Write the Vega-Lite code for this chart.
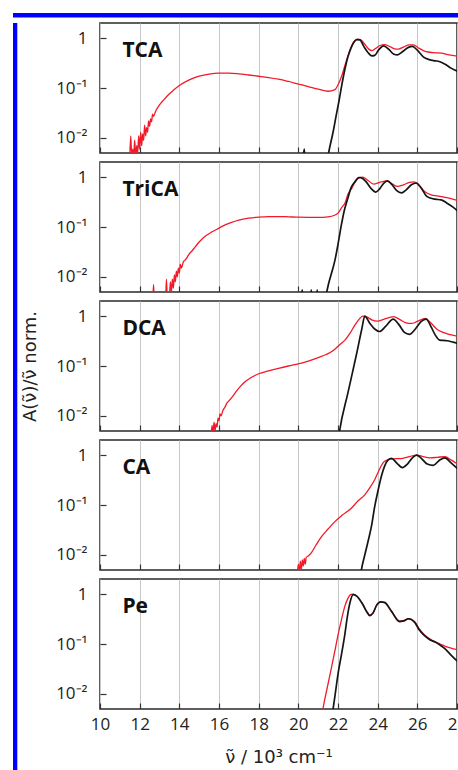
{
  "$schema": "https://vega.github.io/schema/vega-lite/v6.json",
  "background": "white",
  "padding": {"left": 12, "top": 12, "right": 0, "bottom": 0},
  "spacing": 0,
  "config": {
    "view": {"stroke": "#2a2a2a", "strokeWidth": 1.5},
    "axis": {"labelFont": "Open Sans", "labelFontSize": 17, "labelColor": "#222", "titleFont": "DejaVu Sans", "titleFontSize": 18, "titleFontWeight": "normal", "titleColor": "#222", "domain": false, "tickColor": "#333", "tickWidth": 1.2, "labelOverlap": false, "labelFlush": false},
    "axisX": {"grid": true, "gridColor": "#c8c8c8", "gridWidth": 1, "tickSize": -6, "labelPadding": 13.5, "titlePadding": 16},
    "axisY": {"grid": false, "tickSize": -6, "labelPadding": 19, "titlePadding": 16},
    "text": {"font": "Open Sans"}
  },
  "data": {"values": [
    {"panel":"TCA","series":"red","nu":11.5,"A":0.004},{"panel":"TCA","series":"red","nu":11.55,"A":0.011},{"panel":"TCA","series":"red","nu":11.6,"A":0.004},{"panel":"TCA","series":"red","nu":11.65,"A":0.006},{"panel":"TCA","series":"red","nu":11.7,"A":0.0045},{"panel":"TCA","series":"red","nu":11.75,"A":0.009},{"panel":"TCA","series":"red","nu":11.8,"A":0.004},{"panel":"TCA","series":"red","nu":11.85,"A":0.007},{"panel":"TCA","series":"red","nu":11.9,"A":0.005},{"panel":"TCA","series":"red","nu":11.95,"A":0.011},{"panel":"TCA","series":"red","nu":12.0,"A":0.006},{"panel":"TCA","series":"red","nu":12.05,"A":0.013},{"panel":"TCA","series":"red","nu":12.1,"A":0.007},{"panel":"TCA","series":"red","nu":12.15,"A":0.012},{"panel":"TCA","series":"red","nu":12.2,"A":0.009},{"panel":"TCA","series":"red","nu":12.25,"A":0.018},{"panel":"TCA","series":"red","nu":12.3,"A":0.011},{"panel":"TCA","series":"red","nu":12.35,"A":0.016},{"panel":"TCA","series":"red","nu":12.4,"A":0.013},{"panel":"TCA","series":"red","nu":12.45,"A":0.022},{"panel":"TCA","series":"red","nu":12.5,"A":0.017},{"panel":"TCA","series":"red","nu":12.55,"A":0.024},{"panel":"TCA","series":"red","nu":12.6,"A":0.021},{"panel":"TCA","series":"red","nu":12.65,"A":0.03},{"panel":"TCA","series":"red","nu":12.7,"A":0.027},{"panel":"TCA","series":"red","nu":12.8,"A":0.034},{"panel":"TCA","series":"red","nu":12.9,"A":0.04},{"panel":"TCA","series":"red","nu":13.0,"A":0.046},{"panel":"TCA","series":"red","nu":13.2,"A":0.057},{"panel":"TCA","series":"red","nu":13.4,"A":0.07},{"panel":"TCA","series":"red","nu":13.7,"A":0.09},{"panel":"TCA","series":"red","nu":14.0,"A":0.112},{"panel":"TCA","series":"red","nu":14.5,"A":0.145},{"panel":"TCA","series":"red","nu":15.0,"A":0.172},{"panel":"TCA","series":"red","nu":15.5,"A":0.19},{"panel":"TCA","series":"red","nu":16.0,"A":0.198},{"panel":"TCA","series":"red","nu":16.5,"A":0.198},{"panel":"TCA","series":"red","nu":17.0,"A":0.192},{"panel":"TCA","series":"red","nu":17.5,"A":0.182},{"panel":"TCA","series":"red","nu":18.0,"A":0.172},{"panel":"TCA","series":"red","nu":18.5,"A":0.162},{"panel":"TCA","series":"red","nu":19.0,"A":0.15},{"panel":"TCA","series":"red","nu":19.5,"A":0.135},{"panel":"TCA","series":"red","nu":20.0,"A":0.12},{"panel":"TCA","series":"red","nu":20.5,"A":0.107},{"panel":"TCA","series":"red","nu":21.0,"A":0.095},{"panel":"TCA","series":"red","nu":21.5,"A":0.086},{"panel":"TCA","series":"red","nu":21.85,"A":0.093},{"panel":"TCA","series":"red","nu":22.0,"A":0.115},{"panel":"TCA","series":"red","nu":22.2,"A":0.18},{"panel":"TCA","series":"red","nu":22.4,"A":0.33},{"panel":"TCA","series":"red","nu":22.55,"A":0.5},{"panel":"TCA","series":"red","nu":22.7,"A":0.72},{"panel":"TCA","series":"red","nu":22.85,"A":0.88},{"panel":"TCA","series":"red","nu":23.0,"A":0.95},{"panel":"TCA","series":"red","nu":23.15,"A":0.92},{"panel":"TCA","series":"red","nu":23.35,"A":0.75},{"panel":"TCA","series":"red","nu":23.55,"A":0.6},{"panel":"TCA","series":"red","nu":23.7,"A":0.56},{"panel":"TCA","series":"red","nu":23.9,"A":0.62},{"panel":"TCA","series":"red","nu":24.1,"A":0.7},{"panel":"TCA","series":"red","nu":24.35,"A":0.74},{"panel":"TCA","series":"red","nu":24.6,"A":0.68},{"panel":"TCA","series":"red","nu":24.85,"A":0.61},{"panel":"TCA","series":"red","nu":25.05,"A":0.6},{"panel":"TCA","series":"red","nu":25.3,"A":0.66},{"panel":"TCA","series":"red","nu":25.6,"A":0.73},{"panel":"TCA","series":"red","nu":25.8,"A":0.73},{"panel":"TCA","series":"red","nu":26.1,"A":0.62},{"panel":"TCA","series":"red","nu":26.4,"A":0.54},{"panel":"TCA","series":"red","nu":26.8,"A":0.51},{"panel":"TCA","series":"red","nu":27.2,"A":0.5},{"panel":"TCA","series":"red","nu":27.6,"A":0.46},{"panel":"TCA","series":"red","nu":28.1,"A":0.43},
    {"panel":"TCA","series":"black","nu":20.2,"A":0.003},{"panel":"TCA","series":"black","nu":20.3,"A":0.006},{"panel":"TCA","series":"black","nu":20.35,"A":0.003},{"panel":"TCA","series":"black","nu":21.45,"A":0.004},{"panel":"TCA","series":"black","nu":21.6,"A":0.007},{"panel":"TCA","series":"black","nu":21.75,"A":0.013},{"panel":"TCA","series":"black","nu":21.9,"A":0.027},{"panel":"TCA","series":"black","nu":22.05,"A":0.055},{"panel":"TCA","series":"black","nu":22.2,"A":0.12},{"panel":"TCA","series":"black","nu":22.35,"A":0.24},{"panel":"TCA","series":"black","nu":22.5,"A":0.42},{"panel":"TCA","series":"black","nu":22.65,"A":0.62},{"panel":"TCA","series":"black","nu":22.8,"A":0.82},{"panel":"TCA","series":"black","nu":22.95,"A":0.93},{"panel":"TCA","series":"black","nu":23.1,"A":0.92},{"panel":"TCA","series":"black","nu":23.3,"A":0.68},{"panel":"TCA","series":"black","nu":23.5,"A":0.52},{"panel":"TCA","series":"black","nu":23.7,"A":0.44},{"panel":"TCA","series":"black","nu":23.85,"A":0.45},{"panel":"TCA","series":"black","nu":24.05,"A":0.58},{"panel":"TCA","series":"black","nu":24.3,"A":0.7},{"panel":"TCA","series":"black","nu":24.55,"A":0.6},{"panel":"TCA","series":"black","nu":24.8,"A":0.48},{"panel":"TCA","series":"black","nu":25.0,"A":0.46},{"panel":"TCA","series":"black","nu":25.25,"A":0.53},{"panel":"TCA","series":"black","nu":25.55,"A":0.65},{"panel":"TCA","series":"black","nu":25.75,"A":0.68},{"panel":"TCA","series":"black","nu":26.0,"A":0.57},{"panel":"TCA","series":"black","nu":26.3,"A":0.42},{"panel":"TCA","series":"black","nu":26.6,"A":0.37},{"panel":"TCA","series":"black","nu":26.9,"A":0.35},{"panel":"TCA","series":"black","nu":27.1,"A":0.34},{"panel":"TCA","series":"black","nu":27.4,"A":0.3},{"panel":"TCA","series":"black","nu":27.7,"A":0.25},{"panel":"TCA","series":"black","nu":28.1,"A":0.21},
    {"panel":"TriCA","series":"red","nu":12.65,"A":0.003},{"panel":"TriCA","series":"red","nu":12.7,"A":0.007},{"panel":"TriCA","series":"red","nu":12.75,"A":0.003},{"panel":"TriCA","series":"red","nu":13.3,"A":0.003},{"panel":"TriCA","series":"red","nu":13.35,"A":0.009},{"panel":"TriCA","series":"red","nu":13.4,"A":0.003},{"panel":"TriCA","series":"red","nu":13.5,"A":0.004},{"panel":"TriCA","series":"red","nu":13.55,"A":0.008},{"panel":"TriCA","series":"red","nu":13.6,"A":0.005},{"panel":"TriCA","series":"red","nu":13.65,"A":0.009},{"panel":"TriCA","series":"red","nu":13.7,"A":0.006},{"panel":"TriCA","series":"red","nu":13.75,"A":0.011},{"panel":"TriCA","series":"red","nu":13.8,"A":0.008},{"panel":"TriCA","series":"red","nu":13.85,"A":0.013},{"panel":"TriCA","series":"red","nu":13.9,"A":0.01},{"panel":"TriCA","series":"red","nu":13.95,"A":0.015},{"panel":"TriCA","series":"red","nu":14.0,"A":0.012},{"panel":"TriCA","series":"red","nu":14.05,"A":0.018},{"panel":"TriCA","series":"red","nu":14.1,"A":0.015},{"panel":"TriCA","series":"red","nu":14.2,"A":0.02},{"panel":"TriCA","series":"red","nu":14.3,"A":0.022},{"panel":"TriCA","series":"red","nu":14.4,"A":0.025},{"panel":"TriCA","series":"red","nu":14.5,"A":0.029},{"panel":"TriCA","series":"red","nu":14.6,"A":0.032},{"panel":"TriCA","series":"red","nu":14.8,"A":0.04},{"panel":"TriCA","series":"red","nu":15.0,"A":0.05},{"panel":"TriCA","series":"red","nu":15.3,"A":0.065},{"panel":"TriCA","series":"red","nu":15.6,"A":0.078},{"panel":"TriCA","series":"red","nu":15.9,"A":0.09},{"panel":"TriCA","series":"red","nu":16.2,"A":0.105},{"panel":"TriCA","series":"red","nu":16.6,"A":0.122},{"panel":"TriCA","series":"red","nu":17.0,"A":0.137},{"panel":"TriCA","series":"red","nu":17.5,"A":0.15},{"panel":"TriCA","series":"red","nu":18.0,"A":0.158},{"panel":"TriCA","series":"red","nu":18.5,"A":0.162},{"panel":"TriCA","series":"red","nu":19.0,"A":0.162},{"panel":"TriCA","series":"red","nu":19.5,"A":0.16},{"panel":"TriCA","series":"red","nu":20.0,"A":0.157},{"panel":"TriCA","series":"red","nu":20.5,"A":0.156},{"panel":"TriCA","series":"red","nu":21.0,"A":0.156},{"panel":"TriCA","series":"red","nu":21.5,"A":0.16},{"panel":"TriCA","series":"red","nu":21.8,"A":0.17},{"panel":"TriCA","series":"red","nu":22.0,"A":0.19},{"panel":"TriCA","series":"red","nu":22.2,"A":0.25},{"panel":"TriCA","series":"red","nu":22.35,"A":0.3},{"panel":"TriCA","series":"red","nu":22.5,"A":0.45},{"panel":"TriCA","series":"red","nu":22.7,"A":0.6},{"panel":"TriCA","series":"red","nu":22.85,"A":0.78},{"panel":"TriCA","series":"red","nu":23.0,"A":0.93},{"panel":"TriCA","series":"red","nu":23.25,"A":1.0},{"panel":"TriCA","series":"red","nu":23.5,"A":0.86},{"panel":"TriCA","series":"red","nu":23.8,"A":0.72},{"panel":"TriCA","series":"red","nu":24.1,"A":0.78},{"panel":"TriCA","series":"red","nu":24.45,"A":0.84},{"panel":"TriCA","series":"red","nu":24.75,"A":0.72},{"panel":"TriCA","series":"red","nu":25.0,"A":0.65},{"panel":"TriCA","series":"red","nu":25.3,"A":0.7},{"panel":"TriCA","series":"red","nu":25.6,"A":0.78},{"panel":"TriCA","series":"red","nu":25.85,"A":0.8},{"panel":"TriCA","series":"red","nu":26.1,"A":0.66},{"panel":"TriCA","series":"red","nu":26.4,"A":0.5},{"panel":"TriCA","series":"red","nu":26.7,"A":0.44},{"panel":"TriCA","series":"red","nu":27.0,"A":0.42},{"panel":"TriCA","series":"red","nu":27.3,"A":0.4},{"panel":"TriCA","series":"red","nu":27.7,"A":0.37},{"panel":"TriCA","series":"red","nu":28.1,"A":0.33},
    {"panel":"TriCA","series":"black","nu":20.1,"A":0.003},{"panel":"TriCA","series":"black","nu":20.2,"A":0.0055},{"panel":"TriCA","series":"black","nu":20.25,"A":0.003},{"panel":"TriCA","series":"black","nu":20.6,"A":0.003},{"panel":"TriCA","series":"black","nu":20.65,"A":0.0055},{"panel":"TriCA","series":"black","nu":20.7,"A":0.003},{"panel":"TriCA","series":"black","nu":20.9,"A":0.003},{"panel":"TriCA","series":"black","nu":20.95,"A":0.0055},{"panel":"TriCA","series":"black","nu":21.0,"A":0.003},{"panel":"TriCA","series":"black","nu":21.35,"A":0.004},{"panel":"TriCA","series":"black","nu":21.55,"A":0.008},{"panel":"TriCA","series":"black","nu":21.7,"A":0.013},{"panel":"TriCA","series":"black","nu":21.85,"A":0.022},{"panel":"TriCA","series":"black","nu":22.0,"A":0.045},{"panel":"TriCA","series":"black","nu":22.17,"A":0.11},{"panel":"TriCA","series":"black","nu":22.3,"A":0.2},{"panel":"TriCA","series":"black","nu":22.5,"A":0.38},{"panel":"TriCA","series":"black","nu":22.65,"A":0.6},{"panel":"TriCA","series":"black","nu":22.85,"A":0.8},{"panel":"TriCA","series":"black","nu":23.05,"A":0.98},{"panel":"TriCA","series":"black","nu":23.15,"A":0.97},{"panel":"TriCA","series":"black","nu":23.4,"A":0.82},{"panel":"TriCA","series":"black","nu":23.65,"A":0.6},{"panel":"TriCA","series":"black","nu":23.9,"A":0.5},{"panel":"TriCA","series":"black","nu":24.1,"A":0.58},{"panel":"TriCA","series":"black","nu":24.3,"A":0.75},{"panel":"TriCA","series":"black","nu":24.5,"A":0.84},{"panel":"TriCA","series":"black","nu":24.7,"A":0.72},{"panel":"TriCA","series":"black","nu":24.95,"A":0.54},{"panel":"TriCA","series":"black","nu":25.2,"A":0.48},{"panel":"TriCA","series":"black","nu":25.45,"A":0.56},{"panel":"TriCA","series":"black","nu":25.7,"A":0.7},{"panel":"TriCA","series":"black","nu":25.95,"A":0.76},{"panel":"TriCA","series":"black","nu":26.2,"A":0.6},{"panel":"TriCA","series":"black","nu":26.45,"A":0.42},{"panel":"TriCA","series":"black","nu":26.65,"A":0.38},{"panel":"TriCA","series":"black","nu":26.9,"A":0.36},{"panel":"TriCA","series":"black","nu":27.2,"A":0.35},{"panel":"TriCA","series":"black","nu":27.5,"A":0.3},{"panel":"TriCA","series":"black","nu":27.8,"A":0.25},{"panel":"TriCA","series":"black","nu":28.1,"A":0.2},
    {"panel":"DCA","series":"red","nu":15.6,"A":0.004},{"panel":"DCA","series":"red","nu":15.65,"A":0.0065},{"panel":"DCA","series":"red","nu":15.7,"A":0.0045},{"panel":"DCA","series":"red","nu":15.75,"A":0.0075},{"panel":"DCA","series":"red","nu":15.8,"A":0.005},{"panel":"DCA","series":"red","nu":15.85,"A":0.007},{"panel":"DCA","series":"red","nu":15.9,"A":0.006},{"panel":"DCA","series":"red","nu":15.95,"A":0.009},{"panel":"DCA","series":"red","nu":16.0,"A":0.008},{"panel":"DCA","series":"red","nu":16.05,"A":0.011},{"panel":"DCA","series":"red","nu":16.1,"A":0.01},{"panel":"DCA","series":"red","nu":16.2,"A":0.013},{"panel":"DCA","series":"red","nu":16.3,"A":0.015},{"panel":"DCA","series":"red","nu":16.4,"A":0.018},{"panel":"DCA","series":"red","nu":16.5,"A":0.02},{"panel":"DCA","series":"red","nu":16.7,"A":0.025},{"panel":"DCA","series":"red","nu":16.9,"A":0.032},{"panel":"DCA","series":"red","nu":17.1,"A":0.04},{"panel":"DCA","series":"red","nu":17.3,"A":0.048},{"panel":"DCA","series":"red","nu":17.6,"A":0.058},{"panel":"DCA","series":"red","nu":18.0,"A":0.07},{"panel":"DCA","series":"red","nu":18.5,"A":0.08},{"panel":"DCA","series":"red","nu":19.0,"A":0.09},{"panel":"DCA","series":"red","nu":19.5,"A":0.1},{"panel":"DCA","series":"red","nu":20.0,"A":0.11},{"panel":"DCA","series":"red","nu":20.5,"A":0.125},{"panel":"DCA","series":"red","nu":21.0,"A":0.147},{"panel":"DCA","series":"red","nu":21.4,"A":0.17},{"panel":"DCA","series":"red","nu":21.8,"A":0.21},{"panel":"DCA","series":"red","nu":22.1,"A":0.27},{"panel":"DCA","series":"red","nu":22.35,"A":0.33},{"panel":"DCA","series":"red","nu":22.6,"A":0.45},{"panel":"DCA","series":"red","nu":22.85,"A":0.66},{"panel":"DCA","series":"red","nu":23.05,"A":0.85},{"panel":"DCA","series":"red","nu":23.25,"A":1.0},{"panel":"DCA","series":"red","nu":23.45,"A":0.96},{"panel":"DCA","series":"red","nu":23.7,"A":0.84},{"panel":"DCA","series":"red","nu":24.0,"A":0.79},{"panel":"DCA","series":"red","nu":24.3,"A":0.86},{"panel":"DCA","series":"red","nu":24.8,"A":0.97},{"panel":"DCA","series":"red","nu":25.1,"A":0.86},{"panel":"DCA","series":"red","nu":25.4,"A":0.74},{"panel":"DCA","series":"red","nu":25.7,"A":0.71},{"panel":"DCA","series":"red","nu":26.0,"A":0.78},{"panel":"DCA","series":"red","nu":26.4,"A":0.9},{"panel":"DCA","series":"red","nu":26.65,"A":0.75},{"panel":"DCA","series":"red","nu":27.0,"A":0.54},{"panel":"DCA","series":"red","nu":27.3,"A":0.47},{"panel":"DCA","series":"red","nu":27.6,"A":0.43},{"panel":"DCA","series":"red","nu":28.1,"A":0.39},
    {"panel":"DCA","series":"black","nu":22.0,"A":0.003},{"panel":"DCA","series":"black","nu":22.08,"A":0.005},{"panel":"DCA","series":"black","nu":22.5,"A":0.029},{"panel":"DCA","series":"black","nu":22.93,"A":0.17},{"panel":"DCA","series":"black","nu":23.2,"A":0.55},{"panel":"DCA","series":"black","nu":23.35,"A":1.0},{"panel":"DCA","series":"black","nu":23.6,"A":0.72},{"panel":"DCA","series":"black","nu":23.85,"A":0.55},{"panel":"DCA","series":"black","nu":24.1,"A":0.49},{"panel":"DCA","series":"black","nu":24.4,"A":0.62},{"panel":"DCA","series":"black","nu":24.78,"A":0.87},{"panel":"DCA","series":"black","nu":25.1,"A":0.65},{"panel":"DCA","series":"black","nu":25.35,"A":0.47},{"panel":"DCA","series":"black","nu":25.6,"A":0.43},{"panel":"DCA","series":"black","nu":25.9,"A":0.55},{"panel":"DCA","series":"black","nu":26.2,"A":0.78},{"panel":"DCA","series":"black","nu":26.45,"A":0.87},{"panel":"DCA","series":"black","nu":26.7,"A":0.6},{"panel":"DCA","series":"black","nu":26.9,"A":0.42},{"panel":"DCA","series":"black","nu":27.13,"A":0.33},{"panel":"DCA","series":"black","nu":27.5,"A":0.32},{"panel":"DCA","series":"black","nu":27.8,"A":0.3},{"panel":"DCA","series":"black","nu":28.1,"A":0.28},
    {"panel":"CA","series":"red","nu":19.95,"A":0.004},{"panel":"CA","series":"red","nu":20.0,"A":0.0065},{"panel":"CA","series":"red","nu":20.05,"A":0.0045},{"panel":"CA","series":"red","nu":20.1,"A":0.0075},{"panel":"CA","series":"red","nu":20.15,"A":0.005},{"panel":"CA","series":"red","nu":20.2,"A":0.008},{"panel":"CA","series":"red","nu":20.25,"A":0.006},{"panel":"CA","series":"red","nu":20.3,"A":0.0085},{"panel":"CA","series":"red","nu":20.35,"A":0.0065},{"panel":"CA","series":"red","nu":20.4,"A":0.009},{"panel":"CA","series":"red","nu":20.5,"A":0.0095},{"panel":"CA","series":"red","nu":20.65,"A":0.011},{"panel":"CA","series":"red","nu":20.9,"A":0.016},{"panel":"CA","series":"red","nu":21.16,"A":0.023},{"panel":"CA","series":"red","nu":21.5,"A":0.033},{"panel":"CA","series":"red","nu":21.83,"A":0.046},{"panel":"CA","series":"red","nu":22.2,"A":0.062},{"panel":"CA","series":"red","nu":22.67,"A":0.086},{"panel":"CA","series":"red","nu":23.0,"A":0.12},{"panel":"CA","series":"red","nu":23.35,"A":0.16},{"panel":"CA","series":"red","nu":23.6,"A":0.22},{"panel":"CA","series":"red","nu":23.85,"A":0.32},{"panel":"CA","series":"red","nu":24.05,"A":0.48},{"panel":"CA","series":"red","nu":24.27,"A":0.7},{"panel":"CA","series":"red","nu":24.5,"A":0.8},{"panel":"CA","series":"red","nu":24.75,"A":0.84},{"panel":"CA","series":"red","nu":25.2,"A":0.85},{"panel":"CA","series":"red","nu":25.6,"A":0.93},{"panel":"CA","series":"red","nu":25.96,"A":1.0},{"panel":"CA","series":"red","nu":26.3,"A":0.93},{"panel":"CA","series":"red","nu":26.63,"A":0.88},{"panel":"CA","series":"red","nu":27.0,"A":0.9},{"panel":"CA","series":"red","nu":27.39,"A":0.93},{"panel":"CA","series":"red","nu":27.7,"A":0.8},{"panel":"CA","series":"red","nu":28.1,"A":0.63},
    {"panel":"CA","series":"black","nu":23.1,"A":0.003},{"panel":"CA","series":"black","nu":23.18,"A":0.005},{"panel":"CA","series":"black","nu":23.35,"A":0.01},{"panel":"CA","series":"black","nu":23.52,"A":0.019},{"panel":"CA","series":"black","nu":23.7,"A":0.04},{"panel":"CA","series":"black","nu":23.85,"A":0.093},{"panel":"CA","series":"black","nu":24.0,"A":0.18},{"panel":"CA","series":"black","nu":24.19,"A":0.38},{"panel":"CA","series":"black","nu":24.35,"A":0.6},{"panel":"CA","series":"black","nu":24.53,"A":0.8},{"panel":"CA","series":"black","nu":24.7,"A":0.86},{"panel":"CA","series":"black","nu":24.95,"A":0.7},{"panel":"CA","series":"black","nu":25.25,"A":0.56},{"panel":"CA","series":"black","nu":25.5,"A":0.66},{"panel":"CA","series":"black","nu":25.75,"A":0.88},{"panel":"CA","series":"black","nu":25.96,"A":1.0},{"panel":"CA","series":"black","nu":26.2,"A":0.86},{"panel":"CA","series":"black","nu":26.5,"A":0.66},{"panel":"CA","series":"black","nu":26.8,"A":0.62},{"panel":"CA","series":"black","nu":27.1,"A":0.78},{"panel":"CA","series":"black","nu":27.39,"A":0.88},{"panel":"CA","series":"black","nu":27.7,"A":0.7},{"panel":"CA","series":"black","nu":28.1,"A":0.5},
    {"panel":"Pe","series":"red","nu":21.15,"A":0.003},{"panel":"Pe","series":"red","nu":21.24,"A":0.005},{"panel":"Pe","series":"red","nu":21.45,"A":0.013},{"panel":"Pe","series":"red","nu":21.66,"A":0.032},{"panel":"Pe","series":"red","nu":21.85,"A":0.075},{"panel":"Pe","series":"red","nu":22.0,"A":0.15},{"panel":"Pe","series":"red","nu":22.17,"A":0.3},{"panel":"Pe","series":"red","nu":22.34,"A":0.56},{"panel":"Pe","series":"red","nu":22.5,"A":0.82},{"panel":"Pe","series":"red","nu":22.65,"A":0.98},{"panel":"Pe","series":"red","nu":22.76,"A":1.0},{"panel":"Pe","series":"red","nu":22.95,"A":0.9},{"panel":"Pe","series":"red","nu":23.26,"A":0.61},{"panel":"Pe","series":"red","nu":23.45,"A":0.45},{"panel":"Pe","series":"red","nu":23.6,"A":0.38},{"panel":"Pe","series":"red","nu":23.77,"A":0.42},{"panel":"Pe","series":"red","nu":23.95,"A":0.6},{"panel":"Pe","series":"red","nu":24.15,"A":0.7},{"panel":"Pe","series":"red","nu":24.35,"A":0.67},{"panel":"Pe","series":"red","nu":24.7,"A":0.45},{"panel":"Pe","series":"red","nu":25.1,"A":0.29},{"panel":"Pe","series":"red","nu":25.3,"A":0.29},{"panel":"Pe","series":"red","nu":25.55,"A":0.32},{"panel":"Pe","series":"red","nu":25.87,"A":0.28},{"panel":"Pe","series":"red","nu":26.1,"A":0.2},{"panel":"Pe","series":"red","nu":26.38,"A":0.15},{"panel":"Pe","series":"red","nu":26.65,"A":0.125},{"panel":"Pe","series":"red","nu":26.9,"A":0.11},{"panel":"Pe","series":"red","nu":27.15,"A":0.1},{"panel":"Pe","series":"red","nu":27.4,"A":0.09},{"panel":"Pe","series":"red","nu":27.7,"A":0.083},{"panel":"Pe","series":"red","nu":28.1,"A":0.075},
    {"panel":"Pe","series":"black","nu":21.65,"A":0.003},{"panel":"Pe","series":"black","nu":21.75,"A":0.005},{"panel":"Pe","series":"black","nu":21.9,"A":0.013},{"panel":"Pe","series":"black","nu":22.0,"A":0.025},{"panel":"Pe","series":"black","nu":22.17,"A":0.06},{"panel":"Pe","series":"black","nu":22.34,"A":0.15},{"panel":"Pe","series":"black","nu":22.47,"A":0.35},{"panel":"Pe","series":"black","nu":22.6,"A":0.66},{"panel":"Pe","series":"black","nu":22.76,"A":0.97},{"panel":"Pe","series":"black","nu":22.93,"A":0.92},{"panel":"Pe","series":"black","nu":23.26,"A":0.61},{"panel":"Pe","series":"black","nu":23.45,"A":0.44},{"panel":"Pe","series":"black","nu":23.6,"A":0.37},{"panel":"Pe","series":"black","nu":23.77,"A":0.42},{"panel":"Pe","series":"black","nu":23.95,"A":0.6},{"panel":"Pe","series":"black","nu":24.15,"A":0.7},{"panel":"Pe","series":"black","nu":24.35,"A":0.68},{"panel":"Pe","series":"black","nu":24.7,"A":0.45},{"panel":"Pe","series":"black","nu":25.1,"A":0.28},{"panel":"Pe","series":"black","nu":25.3,"A":0.29},{"panel":"Pe","series":"black","nu":25.55,"A":0.32},{"panel":"Pe","series":"black","nu":25.87,"A":0.27},{"panel":"Pe","series":"black","nu":26.1,"A":0.19},{"panel":"Pe","series":"black","nu":26.38,"A":0.145},{"panel":"Pe","series":"black","nu":26.65,"A":0.12},{"panel":"Pe","series":"black","nu":26.9,"A":0.11},{"panel":"Pe","series":"black","nu":27.15,"A":0.095},{"panel":"Pe","series":"black","nu":27.4,"A":0.08},{"panel":"Pe","series":"black","nu":27.7,"A":0.06},{"panel":"Pe","series":"black","nu":28.1,"A":0.042}
  ]},
  "vconcat": [
    {"width": 446, "height": 4.5, "data": {"values": [{"frame": "top"}]}, "mark": {"type": "point", "opacity": 0}, "view": {"fill": "#0000ff", "stroke": null}},
    {"spacing": 2, "hconcat": [
      {"width": 4.3, "height": 754, "data": {"values": [{"frame": "left"}]}, "mark": {"type": "point", "opacity": 0}, "view": {"fill": "#0000ff", "stroke": null}},
      {"spacing": 6, "vconcat": [
        {"width": 357, "height": 130, "title": {"text": " ", "fontSize": 1, "offset": 2.5}, "layer": [
          {"transform": [{"filter": "datum.panel === 'TCA' && datum.series === 'red'"}], "mark": {"type": "line", "clip": true, "color": "#f01a28", "strokeWidth": 1.3, "interpolate": "monotone"},
           "encoding": {"x": {"field": "nu", "type": "quantitative", "scale": {"domain": [10, 28], "nice": false}, "axis": {"values": [10,12,14,16,18,20,22,24,26,28], "labels": false, "title": null}},
                        "y": {"field": "A", "type": "quantitative", "scale": {"type": "log", "domain": [0.005, 2], "nice": false}, "axis": {"values": [0.01, 0.1, 1], "labelExpr": "datum.value > 0.5 ? '1' : (datum.value > 0.05 ? '10⁻¹' : '10⁻²')", "title": null}}}},
          {"transform": [{"filter": "datum.panel === 'TCA' && datum.series === 'black'"}], "mark": {"type": "line", "clip": true, "color": "#151515", "strokeWidth": 1.7, "interpolate": "monotone"},
           "encoding": {"x": {"field": "nu", "type": "quantitative", "axis": {"values": [10,12,14,16,18,20,22,24,26,28], "labels": false, "title": null}},
                        "y": {"field": "A", "type": "quantitative", "axis": {"values": [0.01, 0.1, 1], "labelExpr": "datum.value > 0.5 ? '1' : (datum.value > 0.05 ? '10⁻¹' : '10⁻²')", "title": null}}}},
          {"data": {"values": [{"label": "TCA"}]}, "mark": {"type": "text", "align": "left", "baseline": "alphabetic", "fontSize": 21, "fontWeight": "bold", "color": "#111"},
           "encoding": {"x": {"datum": 11.13, "axis": {"values": [10,12,14,16,18,20,22,24,26,28], "labels": false, "title": null}}, "y": {"datum": 0.41, "axis": {"values": [0.01, 0.1, 1], "labelExpr": "datum.value > 0.5 ? '1' : (datum.value > 0.05 ? '10⁻¹' : '10⁻²')", "title": null}}, "text": {"field": "label"}}}
        ]},
        {"width": 357, "height": 130, "layer": [
          {"transform": [{"filter": "datum.panel === 'TriCA' && datum.series === 'red'"}], "mark": {"type": "line", "clip": true, "color": "#f01a28", "strokeWidth": 1.3, "interpolate": "monotone"},
           "encoding": {"x": {"field": "nu", "type": "quantitative", "scale": {"domain": [10, 28], "nice": false}, "axis": {"values": [10,12,14,16,18,20,22,24,26,28], "labels": false, "title": null}},
                        "y": {"field": "A", "type": "quantitative", "scale": {"type": "log", "domain": [0.005, 2], "nice": false}, "axis": {"values": [0.01, 0.1, 1], "labelExpr": "datum.value > 0.5 ? '1' : (datum.value > 0.05 ? '10⁻¹' : '10⁻²')", "title": null}}}},
          {"transform": [{"filter": "datum.panel === 'TriCA' && datum.series === 'black'"}], "mark": {"type": "line", "clip": true, "color": "#151515", "strokeWidth": 1.7, "interpolate": "monotone"},
           "encoding": {"x": {"field": "nu", "type": "quantitative", "axis": {"values": [10,12,14,16,18,20,22,24,26,28], "labels": false, "title": null}},
                        "y": {"field": "A", "type": "quantitative", "axis": {"values": [0.01, 0.1, 1], "labelExpr": "datum.value > 0.5 ? '1' : (datum.value > 0.05 ? '10⁻¹' : '10⁻²')", "title": null}}}},
          {"data": {"values": [{"label": "TriCA"}]}, "mark": {"type": "text", "align": "left", "baseline": "alphabetic", "fontSize": 21, "fontWeight": "bold", "color": "#111"},
           "encoding": {"x": {"datum": 11.13, "axis": {"values": [10,12,14,16,18,20,22,24,26,28], "labels": false, "title": null}}, "y": {"datum": 0.41, "axis": {"values": [0.01, 0.1, 1], "labelExpr": "datum.value > 0.5 ? '1' : (datum.value > 0.05 ? '10⁻¹' : '10⁻²')", "title": null}}, "text": {"field": "label"}}}
        ]},
        {"width": 357, "height": 130, "layer": [
          {"transform": [{"filter": "datum.panel === 'DCA' && datum.series === 'red'"}], "mark": {"type": "line", "clip": true, "color": "#f01a28", "strokeWidth": 1.3, "interpolate": "monotone"},
           "encoding": {"x": {"field": "nu", "type": "quantitative", "scale": {"domain": [10, 28], "nice": false}, "axis": {"values": [10,12,14,16,18,20,22,24,26,28], "labels": false, "title": null}},
                        "y": {"field": "A", "type": "quantitative", "scale": {"type": "log", "domain": [0.005, 2], "nice": false}, "axis": {"values": [0.01, 0.1, 1], "labelExpr": "datum.value > 0.5 ? '1' : (datum.value > 0.05 ? '10⁻¹' : '10⁻²')", "title": "A(ν̃)/ν̃ norm."}}}},
          {"transform": [{"filter": "datum.panel === 'DCA' && datum.series === 'black'"}], "mark": {"type": "line", "clip": true, "color": "#151515", "strokeWidth": 1.7, "interpolate": "monotone"},
           "encoding": {"x": {"field": "nu", "type": "quantitative", "axis": {"values": [10,12,14,16,18,20,22,24,26,28], "labels": false, "title": null}},
                        "y": {"field": "A", "type": "quantitative", "axis": {"values": [0.01, 0.1, 1], "labelExpr": "datum.value > 0.5 ? '1' : (datum.value > 0.05 ? '10⁻¹' : '10⁻²')", "title": "A(ν̃)/ν̃ norm."}}}},
          {"data": {"values": [{"label": "DCA"}]}, "mark": {"type": "text", "align": "left", "baseline": "alphabetic", "fontSize": 21, "fontWeight": "bold", "color": "#111"},
           "encoding": {"x": {"datum": 11.13, "axis": {"values": [10,12,14,16,18,20,22,24,26,28], "labels": false, "title": null}}, "y": {"datum": 0.41, "axis": {"values": [0.01, 0.1, 1], "labelExpr": "datum.value > 0.5 ? '1' : (datum.value > 0.05 ? '10⁻¹' : '10⁻²')", "title": "A(ν̃)/ν̃ norm."}}, "text": {"field": "label"}}}
        ]},
        {"width": 357, "height": 130, "layer": [
          {"transform": [{"filter": "datum.panel === 'CA' && datum.series === 'red'"}], "mark": {"type": "line", "clip": true, "color": "#f01a28", "strokeWidth": 1.3, "interpolate": "monotone"},
           "encoding": {"x": {"field": "nu", "type": "quantitative", "scale": {"domain": [10, 28], "nice": false}, "axis": {"values": [10,12,14,16,18,20,22,24,26,28], "labels": false, "title": null}},
                        "y": {"field": "A", "type": "quantitative", "scale": {"type": "log", "domain": [0.005, 2], "nice": false}, "axis": {"values": [0.01, 0.1, 1], "labelExpr": "datum.value > 0.5 ? '1' : (datum.value > 0.05 ? '10⁻¹' : '10⁻²')", "title": null}}}},
          {"transform": [{"filter": "datum.panel === 'CA' && datum.series === 'black'"}], "mark": {"type": "line", "clip": true, "color": "#151515", "strokeWidth": 1.7, "interpolate": "monotone"},
           "encoding": {"x": {"field": "nu", "type": "quantitative", "axis": {"values": [10,12,14,16,18,20,22,24,26,28], "labels": false, "title": null}},
                        "y": {"field": "A", "type": "quantitative", "axis": {"values": [0.01, 0.1, 1], "labelExpr": "datum.value > 0.5 ? '1' : (datum.value > 0.05 ? '10⁻¹' : '10⁻²')", "title": null}}}},
          {"data": {"values": [{"label": "CA"}]}, "mark": {"type": "text", "align": "left", "baseline": "alphabetic", "fontSize": 21, "fontWeight": "bold", "color": "#111"},
           "encoding": {"x": {"datum": 11.13, "axis": {"values": [10,12,14,16,18,20,22,24,26,28], "labels": false, "title": null}}, "y": {"datum": 0.41, "axis": {"values": [0.01, 0.1, 1], "labelExpr": "datum.value > 0.5 ? '1' : (datum.value > 0.05 ? '10⁻¹' : '10⁻²')", "title": null}}, "text": {"field": "label"}}}
        ]},
        {"width": 357, "height": 130, "layer": [
          {"transform": [{"filter": "datum.panel === 'Pe' && datum.series === 'red'"}], "mark": {"type": "line", "clip": true, "color": "#f01a28", "strokeWidth": 1.3, "interpolate": "monotone"},
           "encoding": {"x": {"field": "nu", "type": "quantitative", "scale": {"domain": [10, 28], "nice": false}, "axis": {"values": [10,12,14,16,18,20,22,24,26,28], "title": "ν̃ / 10³ cm⁻¹"}},
                        "y": {"field": "A", "type": "quantitative", "scale": {"type": "log", "domain": [0.005, 2], "nice": false}, "axis": {"values": [0.01, 0.1, 1], "labelExpr": "datum.value > 0.5 ? '1' : (datum.value > 0.05 ? '10⁻¹' : '10⁻²')", "title": null}}}},
          {"transform": [{"filter": "datum.panel === 'Pe' && datum.series === 'black'"}], "mark": {"type": "line", "clip": true, "color": "#151515", "strokeWidth": 1.7, "interpolate": "monotone"},
           "encoding": {"x": {"field": "nu", "type": "quantitative", "axis": {"values": [10,12,14,16,18,20,22,24,26,28], "title": "ν̃ / 10³ cm⁻¹"}},
                        "y": {"field": "A", "type": "quantitative", "axis": {"values": [0.01, 0.1, 1], "labelExpr": "datum.value > 0.5 ? '1' : (datum.value > 0.05 ? '10⁻¹' : '10⁻²')", "title": null}}}},
          {"data": {"values": [{"label": "Pe"}]}, "mark": {"type": "text", "align": "left", "baseline": "alphabetic", "fontSize": 21, "fontWeight": "bold", "color": "#111"},
           "encoding": {"x": {"datum": 11.13, "axis": {"values": [10,12,14,16,18,20,22,24,26,28], "title": "ν̃ / 10³ cm⁻¹"}}, "y": {"datum": 0.41, "axis": {"values": [0.01, 0.1, 1], "labelExpr": "datum.value > 0.5 ? '1' : (datum.value > 0.05 ? '10⁻¹' : '10⁻²')", "title": null}}, "text": {"field": "label"}}}
        ]}
      ]}
    ]}
  ]
}
